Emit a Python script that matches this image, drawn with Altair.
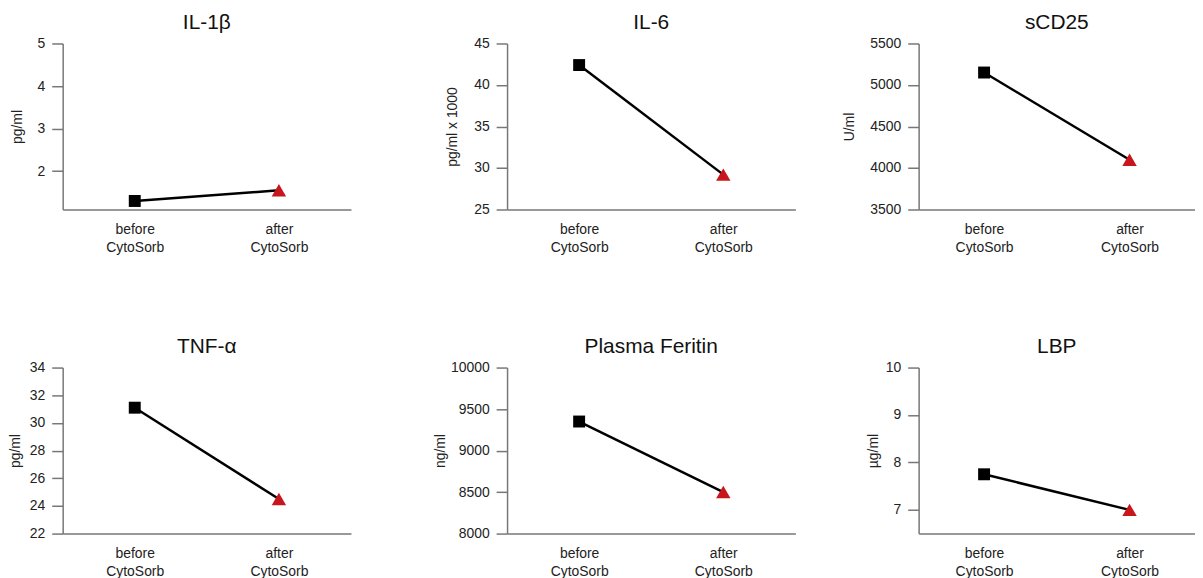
import altair as alt
import pandas as pd

stages = ["before CytoSorb", "after CytoSorb"]
titles = ["IL-1β", "IL-6", "sCD25", "TNF-α", "Plasma Feritin", "LBP"]
units = ["pg/ml", "pg/ml x  1000", "U/ml", "pg/ml", "ng/ml", "µg/ml"]
before_vals = [1.30, 42.4, 5150, 31.1, 9350, 7.75]
after_vals = [1.55, 29.2, 4100, 24.5, 8500, 7.0]
y_domains = [[1.1, 5], [25, 45], [3500, 5500], [22, 34], [8000, 10000], [6.5, 10]]
y_ticks = [[2, 3, 4, 5], [25, 30, 35, 40, 45], [3500, 4000, 4500, 5000, 5500],
           [22, 24, 26, 28, 30, 32, 34], [8000, 8500, 9000, 9500, 10000], [7, 8, 9, 10]]

title_pads = [13, 14, 13, 7, 3, 5]
widths = [290, 290, 278, 290, 290, 278]
x_pads = [0.5, 0.5, 0.45, 0.5, 0.5, 0.45]

AXIS_GRAY = "#777777"
TEXT = "#222222"


def panel(i):
    df = pd.DataFrame({"stage": stages, "value": [before_vals[i], after_vals[i]]})
    x = alt.X(
        "stage:N", sort=stages,
        scale=alt.Scale(type="point", padding=x_pads[i]),
        axis=alt.Axis(title=None, labelAngle=0, labelExpr="split(datum.label, ' ')",
                      ticks=False, tickSize=0, labelPadding=13, labelLineHeight=18,
                      labelBaseline="top", grid=False),
    )
    y = alt.Y(
        "value:Q",
        scale=alt.Scale(domain=y_domains[i], nice=False, zero=False),
        axis=alt.Axis(title=units[i], values=y_ticks[i], format="d", tickSize=11,
                      labelPadding=7, titlePadding=title_pads[i], grid=False),
    )
    base = alt.Chart(df).encode(x=x, y=y)
    line = base.mark_line(color="black", strokeWidth=2.5)
    pts = base.mark_point(filled=True, opacity=1).encode(
        shape=alt.Shape("stage:N", scale=alt.Scale(domain=stages, range=["square", "triangle-up"]), legend=None),
        color=alt.Color("stage:N", scale=alt.Scale(domain=stages, range=["#000000", "#c8161d"]), legend=None),
        size=alt.condition(alt.datum.stage == stages[0], alt.value(144), alt.value(210)),
    )
    return alt.layer(line, pts).properties(
        width=widths[i], height=167,
        title=alt.TitleParams(titles[i], fontSize=21, fontWeight="normal", offset=4, color="#111111"),
    )


VS = 82
col1 = alt.vconcat(panel(0), panel(3), spacing=VS)
col2 = alt.vconcat(panel(1), panel(4), spacing=VS)
col3 = alt.vconcat(panel(2), panel(5), spacing=VS)

chart = alt.hconcat(alt.hconcat(col1, col2, spacing=83), col3, spacing=47).properties(
    padding={"left": 0, "top": 2, "right": 0, "bottom": 0}
).configure(font="Liberation Sans").configure_view(stroke=None).configure_axis(
    domainColor=AXIS_GRAY, domainWidth=1.5, tickColor=AXIS_GRAY, tickWidth=1.5,
    labelFontSize=14, labelColor=TEXT, titleFontSize=14, titleFontWeight="normal",
    titleColor=TEXT,
)

chart.save("out.html", embed_options={"renderer": "svg", "actions": False})
